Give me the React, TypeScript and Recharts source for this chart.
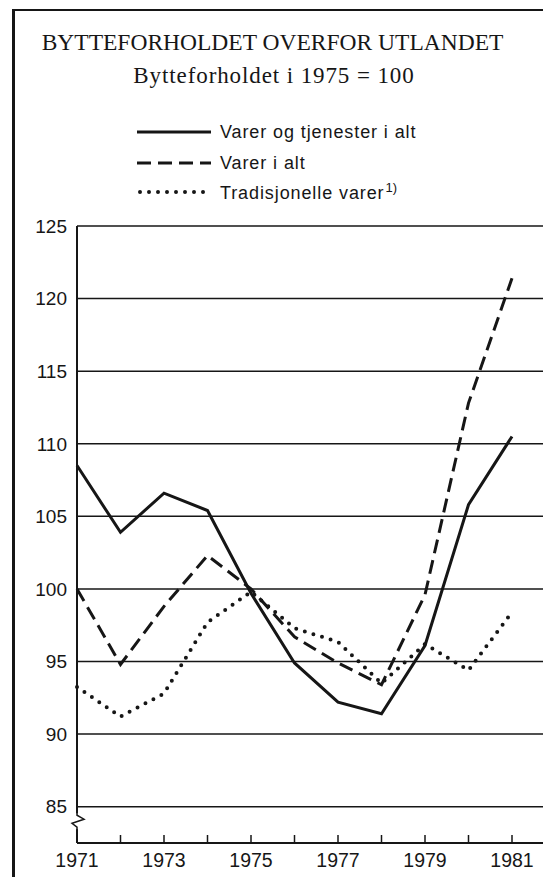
import React from "react";
import {
  LineChart,
  Line,
  XAxis,
  YAxis,
  CartesianGrid,
  ReferenceDot,
} from "recharts";

// Bytteforholdet overfor utlandet, 1975 = 100
const years = [1971, 1972, 1973, 1974, 1975, 1976, 1977, 1978, 1979, 1980, 1981];
const varerOgTjenester = [108.5, 103.9, 106.6, 105.4, 99.7, 94.9, 92.2, 91.4, 96.1, 105.8, 110.5];
const varerIAlt = [100, 94.8, 98.8, 102.3, 100, 96.7, 94.9, 93.4, 99.6, 112.8, 121.4];
const tradisjonelleVarer = [93.25, 91.2, 92.8, 97.7, 99.8, 97.3, 96.35, 93.5, 96.2, 94.4, 98.4];
const yTicks = [85, 90, 95, 100, 105, 110, 115, 120, 125];
const labelYears = [1971, 1973, 1975, 1977, 1979, 1981];

const series = [
  { key: "total", name: "Varer og tjenester i alt", dash: undefined, cap: "butt" },
  { key: "varer", name: "Varer i alt", dash: "14 7", cap: "butt" },
  { key: "trad", name: "Tradisjonelle varer", dash: "0 9", cap: "round" },
];

const chartData = years.map((year, i) => ({
  year,
  total: varerOgTjenester[i],
  varer: varerIAlt[i],
  trad: tradisjonelleVarer[i],
}));

const INK = "#161616";
const SANS = "'Liberation Sans', Arial, sans-serif";
const SERIF = "'Liberation Serif', 'Times New Roman', serif";

const YearTick = (props: any) => {
  const { x, y, payload } = props;
  const show = labelYears.includes(payload.value);
  return (
    <g>
      <line x1={x} x2={x} y1={y - 8} y2={y} stroke={INK} strokeWidth={1.5} />
      {show && (
        <text x={x} y={y + 24} textAnchor="middle" fontSize={19.5} fontFamily={SANS} fill={INK}>
          {payload.value}
        </text>
      )}
    </g>
  );
};

// liten brudd-markering på y-aksen
const AxisBreak = (props: any) => {
  const { cx, cy } = props;
  return (
    <g>
      <rect x={cx - 3} y={cy - 8} width={6} height={16} fill="#fff" />
      <polyline
        points={`${cx},${cy - 9} ${cx},${cy - 6} ${cx + 7},${cy - 2} ${cx - 5},${cy + 2} ${cx},${cy + 6} ${cx},${cy + 9}`}
        fill="none"
        stroke={INK}
        strokeWidth={1.5}
      />
    </g>
  );
};

const LegendSample = ({ dash, cap }: { dash?: string; cap: string }) => (
  <svg width={76} height={8} style={{ display: "block" }}>
    <line
      x1={cap === "round" ? 3 : 0}
      x2={74}
      y1={4}
      y2={4}
      stroke={INK}
      strokeWidth={cap === "round" ? 4 : 3}
      strokeDasharray={dash}
      strokeLinecap={cap as any}
    />
  </svg>
);

const legendRows = [132, 163, 192];

export default function App() {
  return (
    <div
      style={{
        position: "absolute",
        left: 0,
        top: 0,
        width: 543,
        height: 877,
        overflow: "hidden",
        background: "#fff",
        color: INK,
      }}
    >
      {/* ramme */}
      <div
        style={{
          position: "absolute",
          left: 12,
          top: 9,
          width: 600,
          height: 900,
          borderLeft: `3px solid ${INK}`,
          borderTop: `2px solid ${INK}`,
        }}
      />
      <div
        style={{
          position: "absolute",
          left: 0,
          width: 545,
          top: 28,
          textAlign: "center",
          fontFamily: SERIF,
          fontSize: 23.5,
          lineHeight: "28px",
        }}
      >
        BYTTEFORHOLDET OVERFOR UTLANDET
      </div>
      <div
        style={{
          position: "absolute",
          left: 0,
          width: 548,
          top: 62,
          textAlign: "center",
          fontFamily: SERIF,
          fontSize: 23,
          letterSpacing: 0.9,
          lineHeight: "28px",
        }}
      >
        Bytteforholdet i 1975 = 100
      </div>
      {series.map((s, i) => (
        <div
          key={s.key}
          style={{
            position: "absolute",
            left: 137,
            top: legendRows[i] - 12,
            display: "flex",
            alignItems: "center",
            height: 24,
            fontFamily: SANS,
            fontSize: 18,
            letterSpacing: 0.9,
          }}
        >
          <LegendSample dash={s.dash} cap={s.cap} />
          <span style={{ marginLeft: 7 }}>
            {s.name}
            {s.key === "trad" && (
              <sup style={{ fontSize: 13, marginLeft: 1, letterSpacing: 0 }}>1)</sup>
            )}
          </span>
        </div>
      ))}
      <div style={{ position: "absolute", left: 0, top: 0 }}>
        <LineChart
          width={600}
          height={877}
          data={chartData}
          margin={{ top: 226, right: 44.5, left: 0, bottom: 0 }}
        >
          <CartesianGrid vertical={false} stroke={INK} strokeWidth={1.5} />
          <XAxis
            dataKey="year"
            type="number"
            domain={[1971, 1982]}
            ticks={years}
            interval={0}
            height={34}
            axisLine={{ stroke: INK, strokeWidth: 2 }}
            tickLine={false}
            tickSize={0}
            tickMargin={0}
            tick={<YearTick />}
          />
          <YAxis
            type="number"
            domain={[82.5, 125]}
            ticks={yTicks}
            interval={0}
            width={77}
            axisLine={{ stroke: INK, strokeWidth: 2 }}
            tickLine={false}
            tickSize={0}
            tickMargin={10}
            tick={{ fill: INK, fontSize: 19, fontFamily: SANS }}
          />
          <ReferenceDot x={1971} y={84} r={0} shape={<AxisBreak />} />
          <Line
            type="linear"
            dataKey="total"
            stroke={INK}
            strokeWidth={3}
            dot={false}
            isAnimationActive={false}
          />
          <Line
            type="linear"
            dataKey="varer"
            stroke={INK}
            strokeWidth={3}
            strokeDasharray="14 7"
            dot={false}
            isAnimationActive={false}
          />
          <Line
            type="linear"
            dataKey="trad"
            stroke={INK}
            strokeWidth={4}
            strokeDasharray="0 9"
            strokeLinecap="round"
            dot={false}
            isAnimationActive={false}
          />
        </LineChart>
      </div>
    </div>
  );
}
